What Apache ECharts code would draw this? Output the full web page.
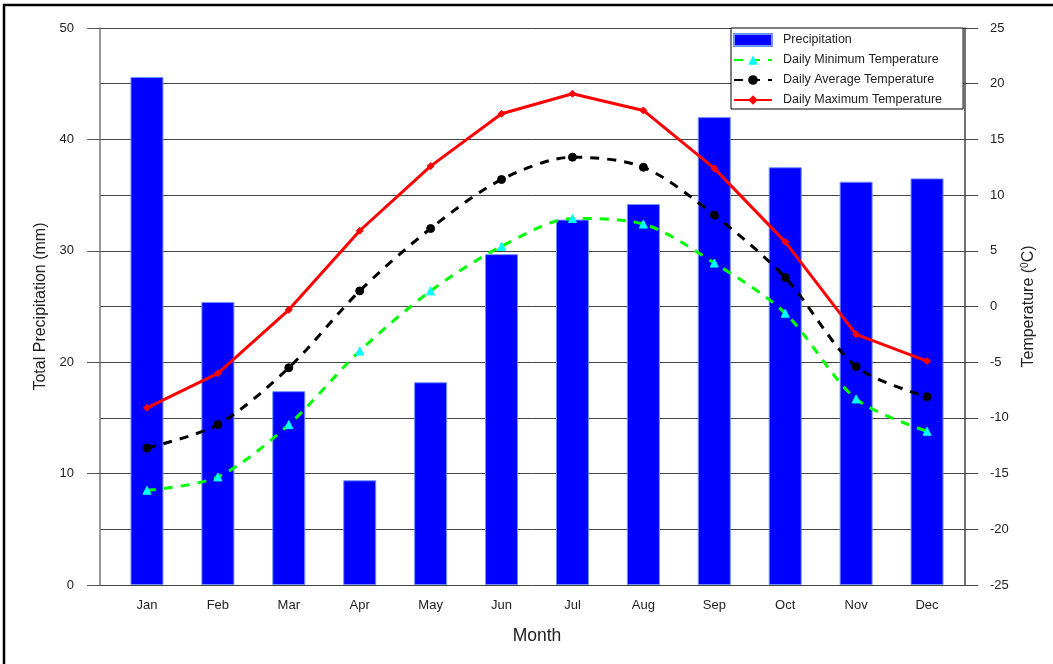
<!DOCTYPE html>
<html>
<head>
<meta charset="utf-8">
<script src="https://cdn.jsdelivr.net/npm/echarts@6/dist/echarts.min.js"></script>
<style>html,body{margin:0;padding:0;background:#fff;}#c{width:1053px;height:664px;}</style>
</head>
<body>
<div id="c"></div>
<script>
const months = ['Jan','Feb','Mar','Apr','May','Jun','Jul','Aug','Sep','Oct','Nov','Dec'];
const precipitation = [45.6, 25.4, 17.4, 9.4, 18.2, 29.7, 32.8, 34.2, 42.0, 37.5, 36.2, 36.5];
const tempMin = [-16.5, -15.3, -10.6, -4.0, 1.4, 5.4, 7.9, 7.4, 3.9, -0.6, -8.3, -11.2];
const tempAvg = [-12.7, -10.6, -5.5, 1.4, 7.0, 11.4, 13.4, 12.5, 8.2, 2.6, -5.4, -8.1];
const tempMax = [-9.1, -6.0, -0.3, 6.8, 12.6, 17.3, 19.1, 17.6, 12.4, 5.8, -2.5, -4.9];

const FONT = 'Liberation Sans, Arial, sans-serif';
const chart = echarts.init(document.getElementById('c'));
chart.setOption({
  animation: false,
  backgroundColor: '#fff',
  textStyle: { fontFamily: FONT },
  graphic: [{
    type: 'rect', shape: { x: 4, y: 5, width: 1070, height: 700 },
    style: { fill: 'none', stroke: '#000', lineWidth: 2.5 }, z: 100
  }],
  grid: [
    { left: 100, right: 88, top: 28, bottom: 79 },
    { left: 111.5, right: 90.5, top: 28, bottom: 79 }
  ],
  legend: {
    orient: 'vertical', left: 731, top: 28,
    padding: [5, 21, 2, 2], itemWidth: 38, itemHeight: 12, itemGap: 6,
    borderColor: '#000', borderWidth: 1, backgroundColor: '#fff',
    textStyle: { fontSize: 12.5, lineHeight: 14, color: '#222', padding: [0, 0, 0, 6] },
    data: [
      { name: 'Precipitation', icon: 'rect' },
      'Daily Minimum Temperature', 'Daily Average Temperature', 'Daily Maximum Temperature'
    ]
  },
  xAxis: [
    { type: 'value', gridIndex: 0, min: 0, max: 1, show: false },
    {
      type: 'category', gridIndex: 1, data: months, boundaryGap: true,
      axisLine: { show: false }, axisTick: { show: false },
      axisLabel: { color: '#222', fontSize: 13, margin: 14 },
      name: 'Month', nameLocation: 'middle', nameGap: 42,
      nameTextStyle: { fontSize: 17.5, color: '#222' }
    }
  ],
  yAxis: [
    {
      type: 'value', gridIndex: 0, position: 'left', min: 0, max: 50, interval: 10,
      axisLine: { show: true, lineStyle: { color: '#777', width: 1.5 } },
      axisTick: { show: true, inside: false, length: 13, lineStyle: { color: '#555' } },
      axisLabel: { color: '#222', fontSize: 13, margin: 26 },
      splitLine: { show: false },
      name: 'Total Precipitation (mm)', nameLocation: 'middle', nameGap: 45,
      nameTextStyle: { fontSize: 16, color: '#222' }
    },
    {
      type: 'value', gridIndex: 0, position: 'right', min: -25, max: 25, interval: 5,
      axisLine: { show: true, lineStyle: { color: '#444', width: 1.5 } },
      axisTick: { show: true, inside: false, length: 13, lineStyle: { color: '#444' } },
      axisLabel: { color: '#222', fontSize: 13, margin: 25 },
      splitLine: { show: true, lineStyle: { color: '#444', width: 1 } },
      name: 'Temperature ({sup|0}C)', nameLocation: 'middle', nameGap: 55, nameRotate: 90,
      nameTextStyle: { fontSize: 16, color: '#222', rich: { sup: { fontSize: 10, color: '#222', verticalAlign: 'bottom', padding: [0, 0, 8, 0] } } }
    },
    { type: 'value', gridIndex: 1, min: 0, max: 50, show: false, splitLine: { show: false } },
    { type: 'value', gridIndex: 1, min: -25, max: 25, show: false, splitLine: { show: false } }
  ],
  series: [
    {
      name: 'Precipitation', type: 'bar', xAxisIndex: 1, yAxisIndex: 2,
      data: precipitation, barWidth: 33,
      itemStyle: { color: '#0000ff', borderColor: '#7090ff', borderWidth: 1 }
    },
    {
      name: 'Daily Minimum Temperature', type: 'line', xAxisIndex: 1, yAxisIndex: 3,
      data: tempMin, symbol: 'triangle', symbolSize: 8, smooth: 0.3,
      lineStyle: { color: '#00ff00', width: 3, type: [9, 8] },
      itemStyle: { color: '#00ffff', borderColor: '#00ffff' }, z: 3
    },
    {
      name: 'Daily Average Temperature', type: 'line', xAxisIndex: 1, yAxisIndex: 3,
      data: tempAvg, symbol: 'circle', symbolSize: 8, smooth: 0.3,
      lineStyle: { color: '#000', width: 3, type: [9, 8] },
      itemStyle: { color: '#000', borderColor: '#000' }, z: 4
    },
    {
      name: 'Daily Maximum Temperature', type: 'line', xAxisIndex: 1, yAxisIndex: 3,
      data: tempMax, symbol: 'diamond', symbolSize: 7,
      lineStyle: { color: '#ff0000', width: 3 },
      itemStyle: { color: '#ff0000', borderColor: '#ff0000' }, z: 5
    }
  ]
});
</script>
</body>
</html>
